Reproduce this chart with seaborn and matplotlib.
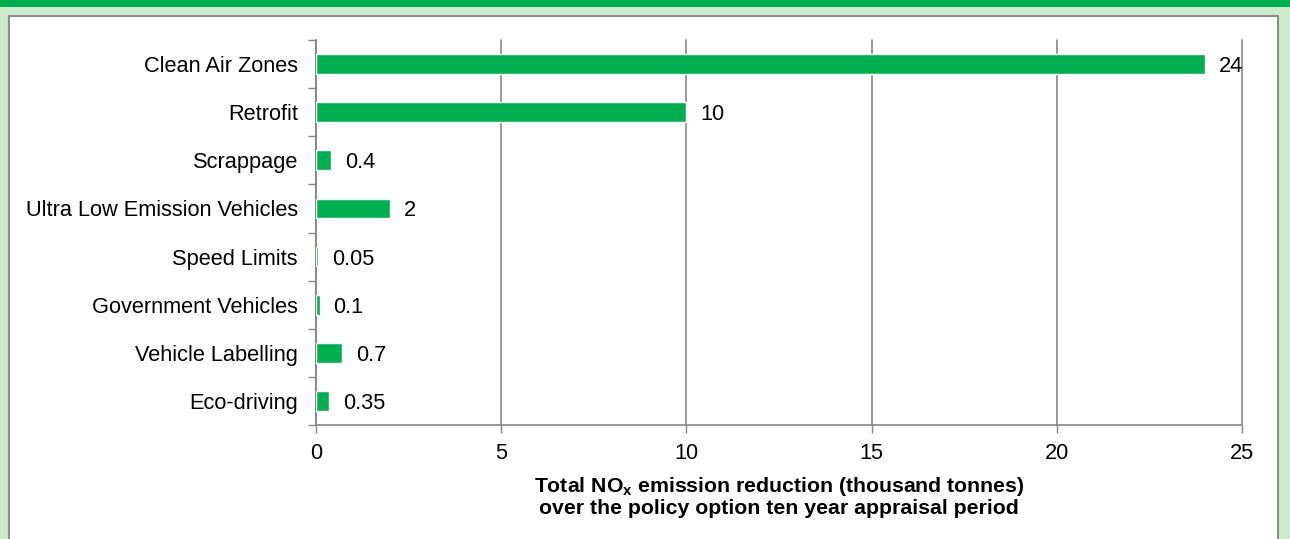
import matplotlib
matplotlib.use("Agg")
import matplotlib.pyplot as plt
import seaborn as sns
import pandas as pd
from matplotlib.patches import Rectangle
from matplotlib.ticker import FixedLocator

categories = ["Clean Air Zones", "Retrofit", "Scrappage", "Ultra Low Emission Vehicles",
              "Speed Limits", "Government Vehicles", "Vehicle Labelling", "Eco-driving"]
values = [24, 10, 0.4, 2, 0.05, 0.1, 0.7, 0.35]
value_labels = ["24", "10", "0.4", "2", "0.05", "0.1", "0.7", "0.35"]
x_ticks = [0, 5, 10, 15, 20, 25]

sns.set_theme(style="white")
plt.rcParams['font.family'] = ['Liberation Sans', 'DejaVu Sans']
plt.rcParams['mathtext.fontset'] = 'custom'
plt.rcParams['mathtext.rm'] = 'Liberation Sans'
plt.rcParams['mathtext.bf'] = 'Liberation Sans:bold'

GREEN = "#00B050"
GRID = "#868686"
FS = 15.7

fig = plt.figure(figsize=(12.9, 5.39), dpi=100, facecolor="#CDEACB")
# top band
fig.patches.append(Rectangle((0, 1 - 7/539), 1, 7/539, transform=fig.transFigure,
                             facecolor=GREEN, edgecolor="none", zorder=-10))
# white panel
fig.patches.append(Rectangle((9/1290, -0.05), (1278-9)/1290, 1.05 - 16/539,
                             transform=fig.transFigure, facecolor="white",
                             edgecolor="#8C8C8C", linewidth=1.5, zorder=-10))

ax = fig.add_axes([316/1290, 1 - 425/539, (1242-316)/1290, (425-40)/539])
ax.set_zorder(5)
ax.set_facecolor("none")

df = pd.DataFrame({"category": categories, "value": values})
sns.barplot(data=df, x="value", y="category", orient="h", color=GREEN,
            width=0.41, saturation=1, ax=ax, zorder=3)

ax.set_xlim(0, 25)
ax.set_ylim(7.5, -0.5)
ax.set_xticks(x_ticks)
ax.set_xticklabels([str(t) for t in x_ticks], fontsize=FS, color="black")
ax.tick_params(axis="x", which="major", length=6, width=1, color=GRID,
               direction="out", pad=7, bottom=True)
ax.tick_params(axis="y", which="major", length=0, pad=13, labelsize=FS,
               labelcolor="black")
ax.yaxis.set_minor_locator(FixedLocator([i - 0.5 for i in range(len(categories) + 1)]))
ax.tick_params(axis="y", which="minor", length=6, width=1, color=GRID,
               direction="out", left=True)

ax.grid(axis="x", color=GRID, linewidth=1.2, zorder=0)
for gl in ax.get_xgridlines():
    gl.set_clip_on(False)
ax.set_axisbelow(True)
for s in ["top", "right"]:
    ax.spines[s].set_visible(False)
for s in ["left", "bottom"]:
    ax.spines[s].set_color(GRID)
    ax.spines[s].set_linewidth(1.2)

ax.set_ylabel("")
ax.set_xlabel("Total NO$_\\mathbf{x}$ emission reduction (thousand tonnes)\n"
              "over the policy option ten year appraisal period",
              fontsize=15.3, fontweight="bold", labelpad=8, linespacing=1.05,
              color="black")

texts = ax.bar_label(ax.containers[0], labels=value_labels, padding=10, fontsize=FS,
                     color="black")
for t in texts:
    t.set_va("center_baseline")

fig.savefig("out.png", dpi=100, facecolor=fig.get_facecolor())
